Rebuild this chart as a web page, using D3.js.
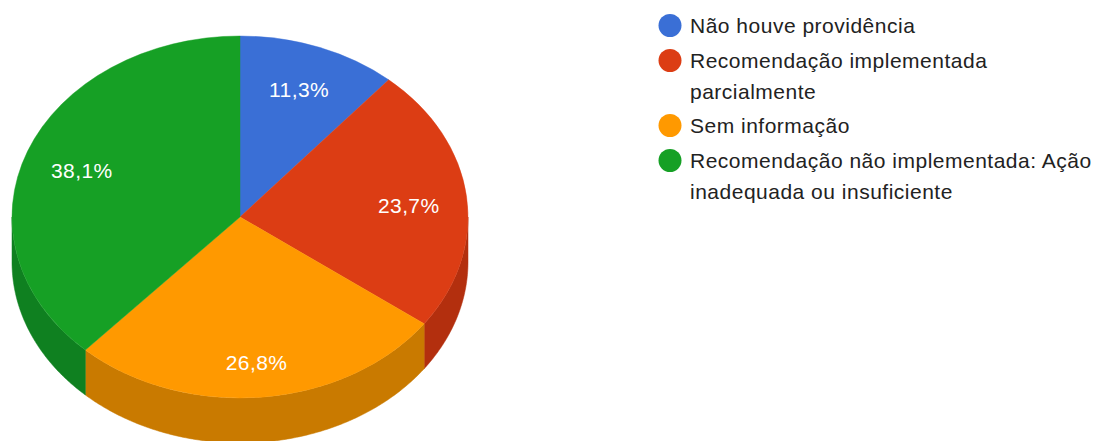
<!DOCTYPE html>
<html>
<head>
<meta charset="utf-8">
<script src="https://cdn.jsdelivr.net/npm/d3@7"></script>
<style>
  body { margin: 0; background: #fff; }
  text { font-family: "Liberation Sans", Arial, sans-serif; }
</style>
</head>
<body>
<svg width="1096" height="441"></svg>
<script>
// dados do gráfico
var categorias = [
    "Não houve providência",
    "Recomendação implementada parcialmente",
    "Sem informação",
    "Recomendação não implementada: Ação inadequada ou insuficiente"
];
var valores = [11.3, 23.7, 26.8, 38.1];
var rotulos = ["11,3%", "23,7%", "26,8%", "38,1%"];
// linhas da legenda (quebradas como no original)
var legendaLinhas = [
    ["Não houve providência"],
    ["Recomendação implementada", "parcialmente"],
    ["Sem informação"],
    ["Recomendação não implementada: Ação", "inadequada ou insuficiente"]
];
var coresTopo = ["#3a6fd6", "#dc3d14", "#ff9900", "#16a025"];
var coresLado = ["#2a52a8", "#b32f0e", "#c97a00", "#0f8020"];

var svg = d3.select("svg"),
    largura = +svg.attr("width"),
    cx = 240,
    cy = 217,
    rx = 228,
    ry = 181,
    depth = 45;

var cor = d3.scaleOrdinal().domain(categorias).range(coresTopo),
    corLado = d3.scaleOrdinal().domain(categorias).range(coresLado);

var pie = d3.pie().sort(null).value(function (d) { return d.v; });
var dados = pie(categorias.map(function (c, i) {
    return { nome: c, v: valores[i], rotulo: rotulos[i] };
}));

// ponto na elipse para um ângulo (0 = topo, sentido horário)
function ponto(a, dy) {
    return [cx + rx * Math.sin(a), cy - ry * Math.cos(a) + (dy || 0)];
}

var linha = d3.line();

// laterais (só a parte da frente é visível)
var lados = svg.append("g");
dados.forEach(function (d) {
    var a0 = Math.max(d.startAngle, Math.PI / 2),
        a1 = Math.min(d.endAngle, 3 * Math.PI / 2);
    if (a1 <= a0) return;
    var passos = d3.range(a0, a1, 0.01).concat([a1]);
    var cima = passos.map(function (a) { return ponto(a); }),
        baixo = passos.slice().reverse().map(function (a) { return ponto(a, depth); });
    lados.append("path")
        .attr("d", linha(cima.concat(baixo)) + "Z")
        .attr("fill", corLado(d.data.nome))
        .attr("stroke", corLado(d.data.nome))
        .attr("stroke-width", 0.5);
});

// topo da pizza: arco circular achatado na vertical
var arc = d3.arc().innerRadius(0).outerRadius(rx);
svg.append("g")
    .attr("transform", "translate(" + cx + "," + cy + ") scale(1," + (ry / rx) + ")")
    .selectAll("path")
    .data(dados)
    .enter().append("path")
    .attr("d", arc)
    .attr("fill", function (d) { return cor(d.data.nome); })
    .attr("stroke", function (d) { return cor(d.data.nome); })
    .attr("stroke-width", 0.5);

// rótulos de porcentagem
svg.append("g")
    .selectAll("text")
    .data(dados)
    .enter().append("text")
    .attr("x", function (d) {
        var m = (d.startAngle + d.endAngle) / 2;
        return cx + rx * 0.745 * Math.sin(m);
    })
    .attr("y", function (d) {
        var m = (d.startAngle + d.endAngle) / 2;
        return cy + 5 - ry * 0.78 * Math.cos(m);
    })
    .attr("dy", "0.35em")
    .attr("text-anchor", "middle")
    .attr("fill", "#fff")
    .style("font-size", "21px")
    .style("letter-spacing", "0.4px")
    .text(function (d) { return d.data.rotulo; });

// legenda
var baseY = [33, 68, 133, 168],
    alturaLinha = 30.5,
    xTexto = 690;
var leg = svg.append("g")
    .selectAll("g")
    .data(categorias)
    .enter().append("g");

leg.append("circle")
    .attr("cx", 670)
    .attr("cy", function (d, i) { return baseY[i] - 7.5; })
    .attr("r", 11.5)
    .attr("fill", function (d) { return cor(d); });

leg.append("text")
    .attr("x", xTexto)
    .attr("y", function (d, i) { return baseY[i]; })
    .attr("fill", "#222")
    .style("font-size", "21px")
    .style("letter-spacing", "0.5px")
    .selectAll("tspan")
    .data(function (d, i) { return legendaLinhas[i]; })
    .enter().append("tspan")
    .attr("x", xTexto)
    .attr("dy", function (d, j) { return j === 0 ? 0 : alturaLinha; })
    .text(function (d) { return d; })
    .each(function () {
        // encolhe a linha se passar da borda direita
        var disponivel = largura - xTexto - 1;
        if (this.getComputedTextLength() > disponivel) {
            d3.select(this)
                .attr("textLength", disponivel)
                .attr("lengthAdjust", "spacingAndGlyphs");
        }
    });
</script>
</body>
</html>
